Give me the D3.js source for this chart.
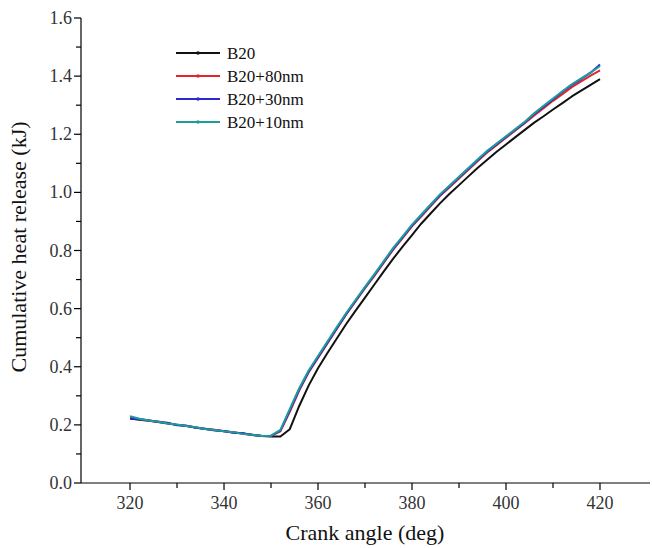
<!DOCTYPE html>
<html><head><meta charset="utf-8">
<script src="https://cdn.jsdelivr.net/npm/d3@7"></script>
<style>body{margin:0;background:#fff}svg{display:block}</style>
</head><body>
<svg id="c" width="652" height="548"></svg>
<script>
const angles = [320,322,324,326,328,330,332,334,336,338,340,342,344,346,348,350,352,354,356,358,360,362,364,366,368,370,372,374,376,378,380,382,384,386,388,390,392,394,396,398,400,402,404,406,408,410,412,414,416,418,420];
const b20 =    [0.222,0.218,0.214,0.210,0.205,0.200,0.196,0.191,0.186,0.182,0.178,0.174,0.170,0.166,0.162,0.160,0.160,0.185,0.265,0.335,0.395,0.447,0.497,0.547,0.593,0.638,0.683,0.728,0.772,0.813,0.853,0.893,0.928,0.963,0.995,1.025,1.055,1.085,1.112,1.140,1.165,1.190,1.215,1.240,1.262,1.285,1.307,1.330,1.350,1.370,1.390];
const b20n80 = [0.225,0.220,0.214,0.212,0.206,0.200,0.197,0.191,0.186,0.183,0.178,0.175,0.170,0.165,0.162,0.162,0.178,0.245,0.318,0.380,0.430,0.480,0.530,0.580,0.625,0.670,0.713,0.758,0.803,0.843,0.883,0.918,0.953,0.988,1.018,1.048,1.078,1.108,1.137,1.162,1.188,1.213,1.238,1.265,1.290,1.315,1.338,1.362,1.382,1.402,1.420];
const b20n30 = [0.222,0.219,0.216,0.210,0.207,0.199,0.197,0.190,0.187,0.181,0.179,0.173,0.171,0.165,0.163,0.162,0.180,0.250,0.322,0.383,0.433,0.483,0.533,0.582,0.627,0.672,0.716,0.761,0.806,0.846,0.886,0.921,0.956,0.991,1.021,1.051,1.081,1.111,1.141,1.166,1.191,1.216,1.241,1.270,1.295,1.320,1.346,1.370,1.390,1.412,1.440];
const b20n10 = [0.230,0.221,0.215,0.211,0.205,0.201,0.196,0.192,0.186,0.182,0.178,0.175,0.169,0.166,0.162,0.163,0.183,0.255,0.326,0.387,0.437,0.487,0.537,0.585,0.630,0.675,0.719,0.764,0.809,0.849,0.889,0.924,0.959,0.994,1.024,1.054,1.084,1.114,1.143,1.168,1.193,1.218,1.243,1.272,1.298,1.323,1.348,1.372,1.392,1.412,1.435];
const seriesNames = ["B20","B20+80nm","B20+30nm","B20+10nm"];
const seriesColors = ["#111111","#e3252b","#2a2ad0","#1c9c9c"];
const seriesData = [b20,b20n80,b20n30,b20n10];
const xTicks = [320,340,360,380,400,420];
const xMinor = [330,350,370,390,410];
const yTicks = [0.0,0.2,0.4,0.6,0.8,1.0,1.2,1.4,1.6];
const yMinor = [0.1,0.3,0.5,0.7,0.9,1.1,1.3,1.5];

const svg = d3.select("#c");
const x = d3.scaleLinear().domain([309.57,430.64]).range([81,650]);
const y = d3.scaleLinear().domain([0,1.6]).range([483,18]);
const font = "'Liberation Serif','Times New Roman',serif";

// x axis
const gx = svg.append("g").attr("transform","translate(0,483)");
gx.append("line").attr("x1",81).attr("x2",650).attr("y1",0).attr("y2",0).attr("stroke","#000").attr("stroke-width",1.2);
gx.selectAll(".mj").data(xTicks).join("line").attr("class","mj").attr("x1",d=>x(d)).attr("x2",d=>x(d)).attr("y1",0).attr("y2",7).attr("stroke","#000").attr("stroke-width",1.2);
gx.selectAll(".mn").data(xMinor).join("line").attr("class","mn").attr("x1",d=>x(d)).attr("x2",d=>x(d)).attr("y1",0).attr("y2",5).attr("stroke","#000").attr("stroke-width",1.2);
gx.selectAll("text").data(xTicks).join("text").attr("x",d=>x(d)).attr("y",26).attr("text-anchor","middle")
  .attr("font-family",font).attr("font-size",18).attr("fill","#333").text(d=>d);
// y axis
const gy = svg.append("g").attr("transform","translate(81,0)");
gy.append("line").attr("x1",0).attr("x2",0).attr("y1",18).attr("y2",483).attr("stroke","#000").attr("stroke-width",1.2);
gy.selectAll(".mj").data(yTicks).join("line").attr("class","mj").attr("x1",-7).attr("x2",0).attr("y1",d=>y(d)).attr("y2",d=>y(d)).attr("stroke","#000").attr("stroke-width",1.2);
gy.selectAll(".mn").data(yMinor).join("line").attr("class","mn").attr("x1",-5).attr("x2",0).attr("y1",d=>y(d)).attr("y2",d=>y(d)).attr("stroke","#000").attr("stroke-width",1.2);
gy.selectAll("text").data(yTicks).join("text").attr("x",-9).attr("y",d=>y(d)+6).attr("text-anchor","end")
  .attr("font-family",font).attr("font-size",18).attr("fill","#333").text(d=>d.toFixed(1));

// labels
svg.append("text").attr("x",365).attr("y",540).attr("text-anchor","middle").attr("font-family",font).attr("font-size",22).attr("fill","#111").text("Crank angle (deg)");
svg.append("text").attr("transform","translate(26,247) rotate(-90)").attr("text-anchor","middle").attr("font-family",font).attr("font-size",22).attr("fill","#111").text("Cumulative heat release (kJ)");

// lines
const line = d3.line().x((d,i)=>x(angles[i])).y(d=>y(d));
seriesData.forEach((s,k)=>{
  svg.append("path").datum(s).attr("d",line).attr("fill","none").attr("stroke",seriesColors[k]).attr("stroke-width",2).attr("stroke-linejoin","round");
});

// legend
const lg = svg.append("g");
seriesNames.forEach((n,k)=>{
  const yy = 53 + k*23;
  lg.append("line").attr("x1",176).attr("x2",220).attr("y1",yy).attr("y2",yy).attr("stroke",seriesColors[k]).attr("stroke-width",2);
  lg.append("circle").attr("cx",198).attr("cy",yy).attr("r",1.8).attr("fill",seriesColors[k]);
  lg.append("text").attr("x",227).attr("y",yy+6).attr("font-family",font).attr("font-size",17).attr("fill","#111").text(n);
});
</script>
</body></html>
